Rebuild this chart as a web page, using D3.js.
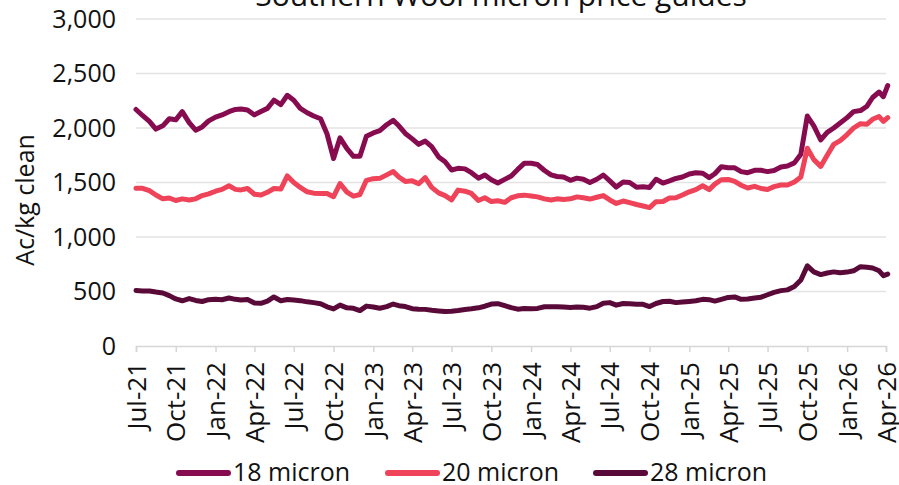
<!DOCTYPE html>
<html>
<head>
<meta charset="utf-8">
<script src="https://cdn.jsdelivr.net/npm/d3@7"></script>
<style>
  body { margin: 0; background: #fff; }
  svg { display: block; font-family: "Open Sans", sans-serif; }
</style>
</head>
<body>
<div id="chart"></div>
<script>
// semi-monthly sample dates (yy-mm-dd)
const dates = [
  "21-07-01","21-07-16","21-08-01","21-08-16","21-09-01","21-09-16","21-10-01","21-10-16","21-11-01","21-11-16","21-12-01","21-12-16",
  "22-01-01","22-01-16","22-02-01","22-02-16","22-03-01","22-03-16","22-04-01","22-04-16","22-05-01","22-05-16","22-06-01","22-06-16",
  "22-07-01","22-07-16","22-08-01","22-08-16","22-09-01","22-09-16","22-10-01","22-10-16","22-11-01","22-11-16","22-12-01","22-12-16",
  "23-01-01","23-01-16","23-02-01","23-02-16","23-03-01","23-03-16","23-04-01","23-04-16","23-05-01","23-05-16","23-06-01","23-06-16",
  "23-07-01","23-07-16","23-08-01","23-08-16","23-09-01","23-09-16","23-10-01","23-10-16","23-11-01","23-11-16","23-12-01","23-12-16",
  "24-01-01","24-01-16","24-02-01","24-02-16","24-03-01","24-03-16","24-04-01","24-04-16","24-05-01","24-05-16","24-06-01","24-06-16",
  "24-07-01","24-07-16","24-08-01","24-08-16","24-09-01","24-09-16","24-10-01","24-10-16","24-11-01","24-11-16","24-12-01","24-12-16",
  "25-01-01","25-01-16","25-02-01","25-02-16","25-03-01","25-03-16","25-04-01","25-04-16","25-05-01","25-05-16","25-06-01","25-06-16",
  "25-07-01","25-07-16","25-08-01","25-08-16","25-09-01","25-09-16","25-10-01","25-10-16","25-11-01","25-11-16","25-12-01","25-12-16",
  "26-01-01","26-01-16","26-02-01","26-02-16","26-03-01","26-03-16","26-03-26","26-04-05"
];

const micron18 = [
  2170,2115,2060,1990,2020,2085,2075,2150,2050,1980,2010,2065,
  2100,2120,2150,2170,2175,2165,2120,2152,2180,2255,2215,2300,
  2255,2180,2140,2110,2085,1945,1720,1910,1810,1740,1740,1925,
  1955,1975,2030,2070,2020,1950,1900,1850,1880,1829,1735,1690,
  1615,1630,1625,1590,1540,1569,1525,1495,1529,1560,1620,1676,
  1676,1665,1610,1570,1555,1550,1520,1540,1530,1500,1530,1569,
  1515,1458,1505,1500,1456,1460,1455,1530,1495,1515,1537,1550,
  1578,1590,1585,1545,1580,1645,1635,1635,1600,1590,1612,1612,
  1600,1610,1642,1652,1680,1760,2110,2020,1890,1960,2000,2045,
  2095,2150,2160,2200,2280,2330,2287,2390
];

const micron20 = [
  1447,1447,1425,1385,1350,1358,1335,1350,1340,1350,1380,1395,
  1420,1437,1470,1437,1432,1445,1392,1385,1410,1445,1440,1560,
  1500,1455,1415,1402,1400,1400,1370,1490,1412,1375,1390,1520,
  1535,1538,1570,1600,1550,1510,1515,1488,1545,1455,1405,1380,
  1340,1430,1420,1400,1335,1360,1325,1333,1318,1360,1378,1384,
  1376,1368,1350,1339,1350,1345,1350,1368,1360,1348,1365,1380,
  1340,1308,1330,1315,1298,1284,1270,1324,1326,1357,1360,1385,
  1415,1435,1470,1435,1485,1525,1528,1510,1475,1450,1465,1445,
  1435,1462,1477,1477,1505,1550,1815,1710,1648,1750,1850,1885,
  1940,2000,2040,2035,2080,2105,2060,2095
];

const micron28 = [
  510,505,505,495,486,462,432,415,435,418,408,425,
  428,424,440,428,423,427,395,392,412,450,415,427,
  422,416,405,398,388,360,340,375,350,346,325,366,
  358,346,361,385,370,362,342,338,336,328,322,316,
  318,325,335,341,350,365,385,388,370,352,338,344,
  342,345,360,361,361,358,354,357,356,347,361,392,
  398,375,390,388,384,382,362,390,408,410,398,404,
  409,415,428,425,412,428,446,450,428,432,441,448,
  470,492,508,515,545,605,735,680,655,670,680,673,
  678,690,728,722,715,690,645,660
];

const seriesNames = ["18 micron", "20 micron", "28 micron"];
const seriesColors = ["#870c4f", "#ee4358", "#5a0a38"];
const yTicks = [0, 500, 1000, 1500, 2000, 2500, 3000];
const xTickLabels = ["Jul-21","Oct-21","Jan-22","Apr-22","Jul-22","Oct-22","Jan-23","Apr-23","Jul-23","Oct-23",
  "Jan-24","Apr-24","Jul-24","Oct-24","Jan-25","Apr-25","Jul-25","Oct-25","Jan-26","Apr-26"];

const width = 899, height = 485;
const margin = { top: 19, right: 13, bottom: 139, left: 136 };

const parseDate = d3.timeParse("%y-%m-%d");
const parseTick = d3.timeParse("%b-%y");
const xDates = dates.map(parseDate);
const tickDates = xTickLabels.map(parseTick);

const svg = d3.select("#chart").append("svg")
    .attr("width", width)
    .attr("height", height);

const x = d3.scaleTime()
    .domain([tickDates[0], tickDates[tickDates.length - 1]])
    .range([margin.left, width - margin.right]);

const y = d3.scaleLinear()
    .domain([0, 3000])
    .range([height - margin.bottom, margin.top]);

// title (cut off at the top in the original)
svg.append("text")
    .attr("x", 501)
    .attr("y", 6)
    .attr("text-anchor", "middle")
    .style("font-size", "30px")
    .style("fill", "#111")
    .text("Southern Wool micron price guides");

// gridlines
svg.append("g")
    .selectAll("line")
    .data(yTicks.slice(1))
    .enter()
    .append("line")
    .attr("x1", margin.left)
    .attr("x2", width - margin.right)
    .attr("y1", d => y(d))
    .attr("y2", d => y(d))
    .attr("stroke", "#e3e3e3")
    .attr("stroke-width", 1.5);

// y axis labels
const yAxis = svg.append("g")
    .attr("transform", `translate(${margin.left},0)`)
    .call(d3.axisLeft(y).tickValues(yTicks).tickSize(0).tickPadding(20).tickFormat(d3.format(",")));
yAxis.select(".domain").remove();
yAxis.selectAll("text")
    .style("font-size", "25px")
    .style("font-family", "Open Sans, sans-serif")
    .attr("fill", "#111");

// x axis
const xAxis = svg.append("g")
    .attr("transform", `translate(0,${y(0)})`)
    .call(d3.axisBottom(x).tickValues(tickDates).tickSize(6).tickFormat((d, i) => xTickLabels[i]));
xAxis.select(".domain").attr("stroke", "#d6d6d6").attr("stroke-width", 1.5);
xAxis.selectAll(".tick line").attr("stroke", "#d6d6d6").attr("stroke-width", 1.5);
xAxis.selectAll("text")
    .attr("transform", "rotate(-90)")
    .attr("text-anchor", "end")
    .attr("x", -16)
    .attr("y", 0)
    .attr("dy", "0.35em")
    .style("font-size", "26px")
    .style("font-family", "Open Sans, sans-serif")
    .attr("fill", "#111");

// y axis title
svg.append("text")
    .attr("transform", "rotate(-90)")
    .attr("x", -200)
    .attr("y", 25)
    .attr("dy", "0.35em")
    .attr("text-anchor", "middle")
    .style("font-size", "25px")
    .style("fill", "#111")
    .text("Ac/kg clean");

// lines
const seriesData = [micron18, micron20, micron28];
const line = d3.line()
    .x((d, i) => x(xDates[i]))
    .y(d => y(d));

svg.append("g")
    .selectAll("path")
    .data(seriesData)
    .enter()
    .append("path")
    .attr("d", d => line(d))
    .attr("fill", "none")
    .attr("stroke", (d, i) => seriesColors[i])
    .attr("stroke-width", 5)
    .attr("stroke-linejoin", "round")
    .attr("stroke-linecap", "round");

// legend
const legendX = [176, 385, 593];
const legend = svg.append("g")
    .selectAll("g")
    .data(seriesNames)
    .enter()
    .append("g")
    .attr("transform", (d, i) => `translate(${legendX[i]},473)`);

legend.append("line")
    .attr("x1", 3)
    .attr("x2", 52)
    .attr("stroke", (d, i) => seriesColors[i])
    .attr("stroke-width", 6)
    .attr("stroke-linecap", "round");

legend.append("text")
    .attr("x", 57)
    .attr("dy", "0.33em")
    .style("font-size", "25px")
    .style("fill", "#111")
    .text(d => d);
</script>
</body>
</html>
